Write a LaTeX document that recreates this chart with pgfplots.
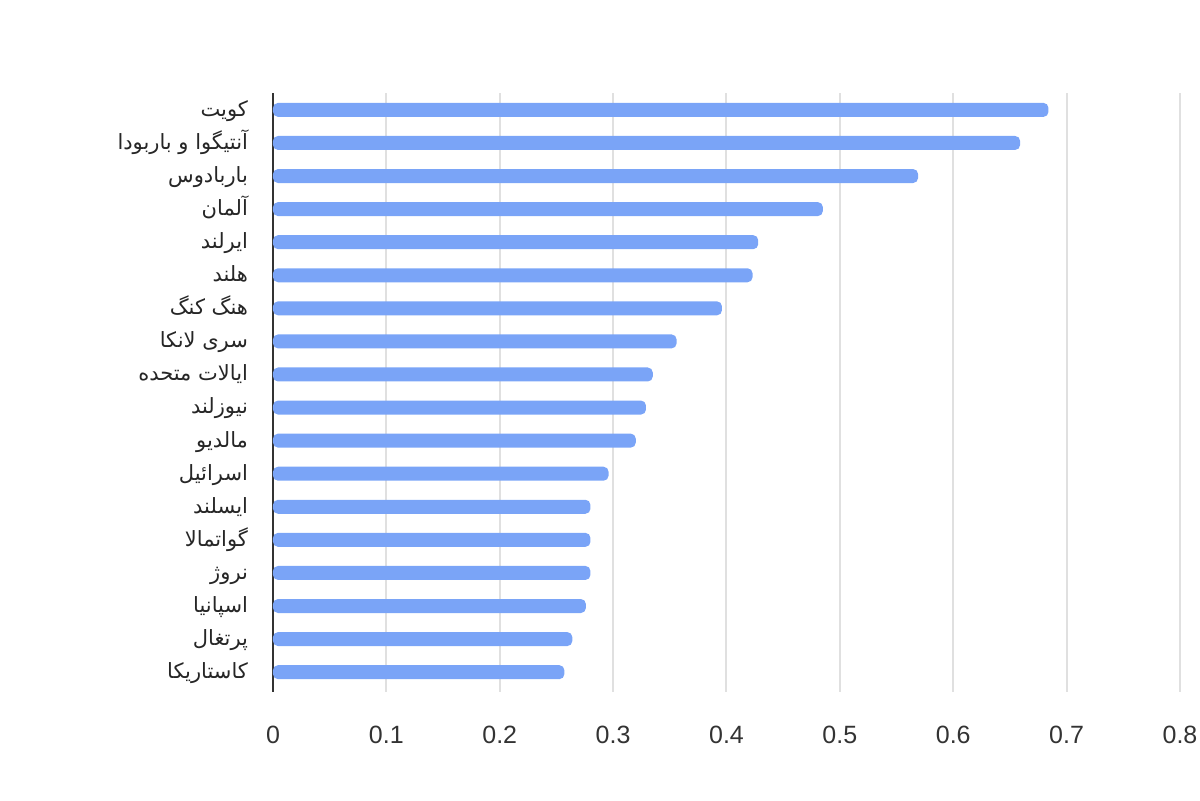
\documentclass[border=0pt]{standalone}
\usepackage{fontspec}
\usepackage{pgfplots}
\pgfplotsset{compat=1.18}
\setmainfont{Liberation Sans}
\newfontfamily\arabicfont[Script=Arabic]{DejaVu Sans}
\TeXXeTstate=1
\definecolor{barblue}{RGB}{122,164,247}
\definecolor{gridgray}{RGB}{224,224,224}
\definecolor{txt}{RGB}{51,51,51}
\begin{document}
\begin{tikzpicture}
	\useasboundingbox (0,0) rectangle (600pt,400pt);
	\begin{axis}[
		at={(136.5pt,54pt)}, anchor=south west,
		scale only axis,
		width=453.5pt, height=299.5pt,
		xbar,
		bar width=7pt,
		xmin=0, xmax=0.8,
		ymin=-0.51, ymax=17.6,
		y dir=reverse,
		xtick={0,0.1,0.2,0.3,0.4,0.5,0.6,0.7,0.8},
		ytick={0,...,17},
		yticklabels={
			{\arabicfont\beginR کویت\endR},
			{\arabicfont\beginR آنتیگوا و باربودا\endR},
			{\arabicfont\beginR باربادوس\endR},
			{\arabicfont\beginR آلمان\endR},
			{\arabicfont\beginR ایرلند\endR},
			{\arabicfont\beginR هلند\endR},
			{\arabicfont\beginR هنگ کنگ\endR},
			{\arabicfont\beginR سری لانکا\endR},
			{\arabicfont\beginR ایالات متحده\endR},
			{\arabicfont\beginR نیوزلند\endR},
			{\arabicfont\beginR مالدیو\endR},
			{\arabicfont\beginR اسرائیل\endR},
			{\arabicfont\beginR ایسلند\endR},
			{\arabicfont\beginR گواتمالا\endR},
			{\arabicfont\beginR نروژ\endR},
			{\arabicfont\beginR اسپانیا\endR},
			{\arabicfont\beginR پرتغال\endR},
			{\arabicfont\beginR کاستاریکا\endR}},
		xticklabel style={font=\fontsize{12.5pt}{14pt}\selectfont, text=txt, yshift=-13.5pt},
		yticklabel style={font=\fontsize{10.5pt}{12pt}\selectfont, text=black!85, xshift=-9pt,
			yshift=-1.2pt, text height=7pt, text depth=3pt},
		/pgf/number format/assume math mode=true,
		/pgf/number format/fixed,
		/pgf/number format/precision=1,
		major tick length=0pt,
		xmajorgrids,
		grid style={gridgray, line width=1pt},
		axis x line*=bottom,
		x axis line style={draw=none},
		axis y line*=left,
		y axis line style={txt, line width=0.8pt, -},
		clip=false,
	]
		\addplot[fill=barblue, draw=none, rounded corners=2.5pt] table[x=val, y=idx] {
			idx val
			0 0.684
			1 0.659
			2 0.569
			3 0.485
			4 0.428
			5 0.423
			6 0.396
			7 0.356
			8 0.335
			9 0.329
			10 0.320
			11 0.296
			12 0.280
			13 0.280
			14 0.280
			15 0.276
			16 0.264
			17 0.257
		};
	\end{axis}
\end{tikzpicture}
\end{document}
